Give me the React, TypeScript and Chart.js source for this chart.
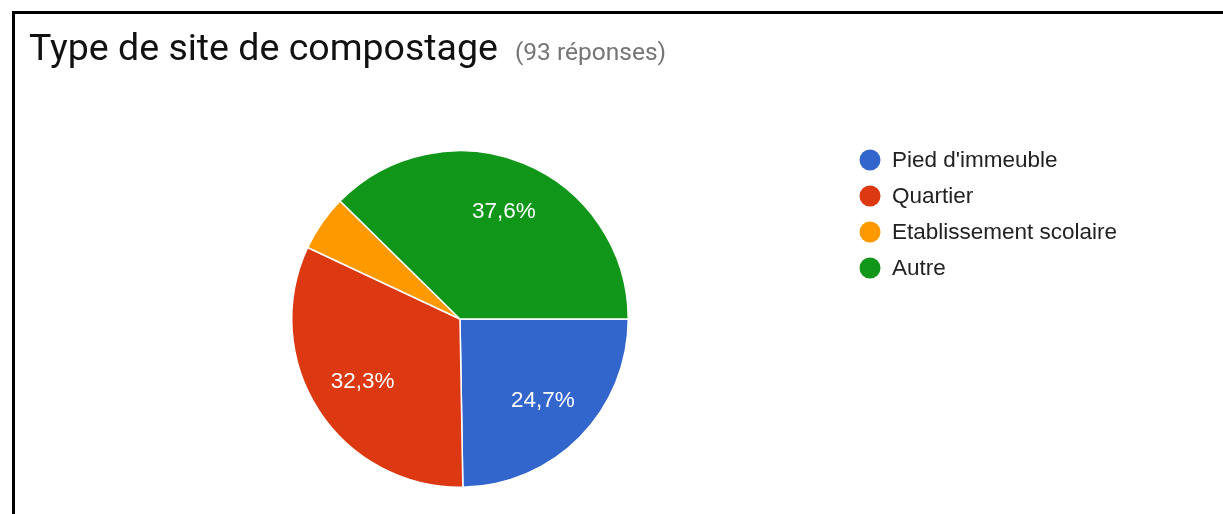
import React, { useEffect, useRef } from "react";
import { Chart, registerables } from "chart.js";

Chart.register(...registerables);

const title = "Type de site de compostage";
const subtitle = "(93 réponses)";
const categories = ["Pied d'immeuble", "Quartier", "Etablissement scolaire", "Autre"];
const responses = [23, 30, 5, 35];
const colors = ["#3366CC", "#DC3912", "#FF9900", "#109618"];

const sliceLabels = {
  id: "sliceLabels",
  afterDatasetsDraw(chart: any) {
    const ctx = chart.ctx;
    const meta = chart.getDatasetMeta(0);
    const data = chart.data.datasets[0].data as number[];
    const total = data.reduce((a, b) => a + b, 0);
    ctx.save();
    ctx.fillStyle = "#ffffff";
    ctx.font = "22.5px 'Liberation Sans', Arial, sans-serif";
    ctx.textAlign = "center";
    ctx.textBaseline = "middle";
    meta.data.forEach((arc: any, i: number) => {
      const pct = (data[i] / total) * 100;
      if (pct < 10) return;
      const mid = (arc.startAngle + arc.endAngle) / 2;
      const r = arc.outerRadius * 0.69;
      const x = arc.x + Math.cos(mid) * r;
      const y = arc.y + Math.sin(mid) * r;
      ctx.fillText(pct.toFixed(1).replace(".", ",") + "%", x, y);
    });
    ctx.restore();
  },
};

const sideLegend = {
  id: "sideLegend",
  afterDraw(chart: any) {
    const ctx = chart.ctx;
    const labels = chart.data.labels as string[];
    const bg = chart.data.datasets[0].backgroundColor as string[];
    ctx.save();
    ctx.font = "22.5px 'Liberation Sans', Arial, sans-serif";
    ctx.textBaseline = "middle";
    ctx.textAlign = "left";
    labels.forEach((lab, i) => {
      const cy = 160 + i * 36;
      ctx.beginPath();
      ctx.fillStyle = bg[i];
      ctx.arc(870, cy, 10.5, 0, Math.PI * 2);
      ctx.fill();
      ctx.fillStyle = "#222222";
      ctx.fillText(lab, 892, cy + 1);
    });
    ctx.restore();
  },
};

export default function App() {
  const ref = useRef<HTMLCanvasElement>(null);
  useEffect(() => {
    if (!ref.current) return;
    const chart = new Chart(ref.current, {
      type: "pie",
      data: {
        labels: categories,
        datasets: [
          {
            data: responses,
            backgroundColor: colors,
            borderColor: "#ffffff",
            borderWidth: 1.5,
          },
        ],
      },
      options: {
        animation: false,
        responsive: false,
        rotation: 90,
        layout: { padding: { left: 291, right: 594, top: 150, bottom: 26 } },
        plugins: {
          legend: { display: false },
          tooltip: { enabled: false },
        },
      },
      plugins: [sliceLabels, sideLegend],
    });
    return () => chart.destroy();
  }, []);

  return (
    <div style={{ position: "absolute", left: 0, top: 0, width: 1223, height: 514, background: "#fff", overflow: "hidden" }}>
      <canvas ref={ref} width={1223} height={514} style={{ position: "absolute", left: 0, top: 0, width: 1223, height: 514 }} />
      <div style={{ position: "absolute", left: 12, top: 11, width: 1211, height: 3, background: "#000" }} />
      <div style={{ position: "absolute", left: 12, top: 11, width: 3, height: 503, background: "#000" }} />
      <div
        style={{
          position: "absolute",
          left: 29,
          top: 25,
          whiteSpace: "nowrap",
          fontFamily: "Roboto, sans-serif",
          lineHeight: "44px",
        }}
      >
        <span style={{ fontSize: 37.5, color: "#111" }}>{title}</span>
        <span style={{ fontSize: 24.5, color: "#757575", marginLeft: 17 }}>{subtitle}</span>
      </div>
    </div>
  );
}
